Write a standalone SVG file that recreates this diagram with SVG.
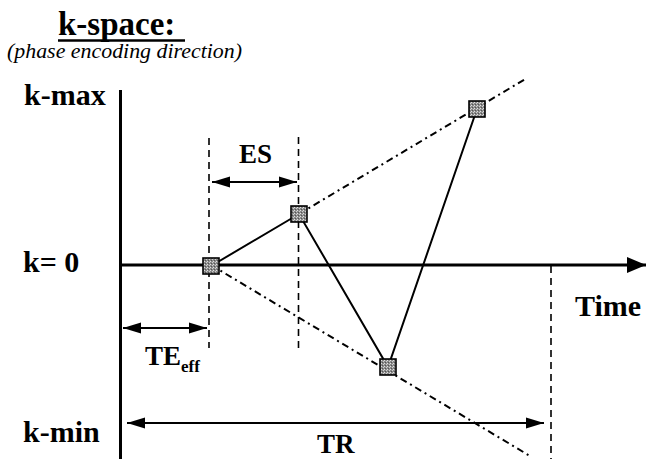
<svg xmlns="http://www.w3.org/2000/svg" width="646" height="459" viewBox="0 0 646 459">
<style>
.lbl{font-family:'Liberation Serif','Times New Roman',Times,'Nimbus Roman','Nimbus Roman No9 L','Noto Serif','FreeSerif',Tinos,'DejaVu Serif',serif;font-weight:bold;fill:#000}
.sub{font-family:'Liberation Serif','Times New Roman',Times,'Nimbus Roman','Nimbus Roman No9 L','Noto Serif','FreeSerif',Tinos,'DejaVu Serif',serif;font-style:italic;fill:#000}
.axis{stroke:#000;stroke-width:3;fill:none}
.dash{stroke:#000;stroke-width:1.6;stroke-dasharray:7 5;fill:none}
.dd{stroke:#000;stroke-width:2;stroke-dasharray:7 4 2 4;fill:none}
.dim{stroke:#000;stroke-width:1.8;fill:none}
.pt{stroke:#000;stroke-width:1.6;fill:url(#tex)}
</style>
<defs>
<pattern id="tex" width="3" height="3" patternUnits="userSpaceOnUse">
<rect width="3" height="3" fill="#8a8a8a"/>
<rect x="0" y="0" width="1" height="1" fill="#e0e0e0"/>
<rect x="2" y="1" width="1" height="1" fill="#cfcfcf"/>
<rect x="1" y="2" width="1" height="1" fill="#555"/>
</pattern>
<marker id="ah" markerUnits="userSpaceOnUse" markerWidth="20" markerHeight="16" refX="19" refY="8" orient="auto">
<path d="M0,0 L19,8 L0,16 Z" fill="#000"/>
</marker>
<marker id="dh" markerUnits="userSpaceOnUse" markerWidth="18" markerHeight="12" refX="18" refY="6" orient="auto-start-reverse">
<path d="M0,0.5 L18,6 L0,11.5 Z" fill="#000"/>
</marker>
</defs>
<g id="title">
<text class="lbl" x="58" y="35" font-size="33">k-space:</text>
<line x1="58" y1="40.5" x2="185" y2="40.5" stroke="#000" stroke-width="2.5"/>
<text class="sub" x="7" y="58" font-size="21" textLength="235" lengthAdjust="spacingAndGlyphs">(phase encoding direction)</text>
</g>
<g id="axes">
<line class="axis" x1="120.5" y1="90" x2="120.5" y2="459"/>
<line class="axis" x1="120" y1="265" x2="646" y2="265" marker-end="url(#ah)"/>
<text class="lbl" x="24" y="105" font-size="30">k-max</text>
<text class="lbl" x="23" y="272" font-size="30">k= 0</text>
<text class="lbl" x="23" y="442" font-size="30">k-min</text>
<text class="lbl" x="575" y="316" font-size="30">Time</text>
</g>
<g id="connectors">
<line class="dash" x1="209" y1="138" x2="209" y2="348"/>
<line class="dash" x1="298.5" y1="137" x2="298.5" y2="350"/>
<line class="dash" x1="551" y1="266" x2="551" y2="459"/>
<line class="dd" x1="299" y1="214" x2="527" y2="78"/>
<line class="dd" x1="211" y1="265" x2="530" y2="456"/>
<polyline points="211,266 299,214 388,367 477,109" stroke="#000" stroke-width="2" fill="none"/>
<line class="dim" x1="212" y1="182" x2="297" y2="182" marker-start="url(#dh)" marker-end="url(#dh)"/>
<line class="dim" x1="123" y1="328" x2="207" y2="328" marker-start="url(#dh)" marker-end="url(#dh)"/>
<line class="dim" x1="127" y1="423" x2="544" y2="423" marker-start="url(#dh)" marker-end="url(#dh)"/>
</g>
<g id="labels">
<text class="lbl" x="239" y="163" font-size="27">ES</text>
<text class="lbl" x="145" y="365" font-size="27">TE<tspan font-size="17" dy="7">eff</tspan></text>
<text class="lbl" x="317" y="453" font-size="27">TR</text>
</g>
<g id="p0"><rect class="pt" x="203" y="258" width="16" height="16"/></g>
<g id="p1"><rect class="pt" x="291" y="206" width="16" height="16"/></g>
<g id="p2"><rect class="pt" x="380" y="359" width="16" height="16"/></g>
<g id="p3"><rect class="pt" x="469" y="101" width="16" height="16"/></g>
</svg>
